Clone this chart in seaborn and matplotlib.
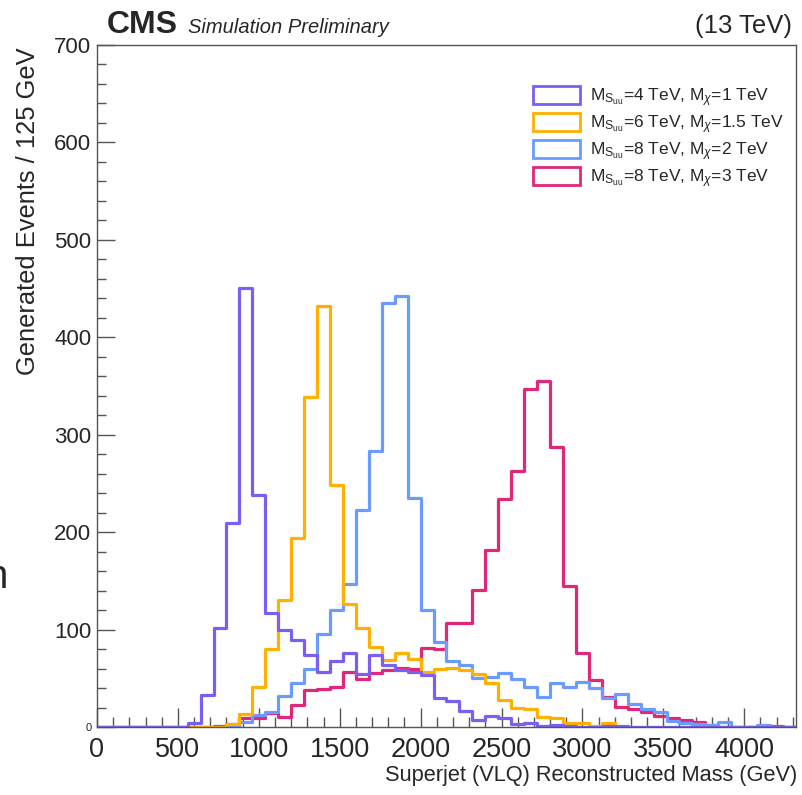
import numpy as np
import pandas as pd
import seaborn as sns
import matplotlib
matplotlib.use("Agg")
import matplotlib.pyplot as plt
from matplotlib.patches import Patch
from matplotlib.ticker import MultipleLocator

# Superjet mass histograms, 80 GeV bins from 0 to 4320 GeV
bin_edges = np.arange(0, 4321, 80)
bin_centers = 0.5 * (bin_edges[:-1] + bin_edges[1:])

# generated events per bin
m4_chi1 = [0, 0, 0, 0, 0, 0, 0, 4, 33, 102, 209, 451, 238, 117, 100, 89, 74, 56,
           68, 76, 54, 74, 64, 58, 56, 53, 30, 27, 16, 7, 11, 9, 3, 4, 1, 2, 1,
           0, 0, 1, 1, 0, 0, 0, 0, 0, 0, 0, 0, 0, 0, 0, 0, 0]
m6_chi15 = [0, 0, 0, 0, 0, 0, 0, 0, 0, 0, 3, 13, 41, 80, 130, 194, 339, 432,
            248, 126, 102, 82, 69, 76, 70, 56, 60, 61, 58, 54, 45, 28, 19, 18,
            10, 9, 4, 4, 1, 4, 0, 0, 0, 0, 0, 0, 0, 0, 0, 0, 0, 0, 0, 0]
m8_chi2 = [0, 0, 0, 0, 0, 0, 0, 0, 0, 0, 0, 5, 12, 15, 32, 45, 60, 95, 120,
           147, 223, 283, 435, 442, 235, 120, 87, 68, 64, 50, 51, 55, 49, 41,
           31, 45, 41, 46, 40, 30, 34, 24, 18, 15, 6, 4, 3, 2, 5, 0, 0, 2, 0, 0]
m8_chi3 = [0, 0, 0, 0, 0, 0, 0, 0, 0, 1, 3, 9, 9, 14, 10, 23, 38, 39, 41, 56,
           49, 55, 58, 61, 60, 81, 80, 107, 107, 141, 182, 234, 263, 347, 355,
           287, 145, 76, 48, 31, 21, 18, 15, 11, 9, 7, 5, 2, 0, 0, 0, 0, 1, 0]

labels = [r"$\mathrm{M}_{\mathrm{S}_{\mathrm{uu}}}$=4 TeV, $\mathrm{M}_{\chi}$=1 TeV",
          r"$\mathrm{M}_{\mathrm{S}_{\mathrm{uu}}}$=6 TeV, $\mathrm{M}_{\chi}$=1.5 TeV",
          r"$\mathrm{M}_{\mathrm{S}_{\mathrm{uu}}}$=8 TeV, $\mathrm{M}_{\chi}$=2 TeV",
          r"$\mathrm{M}_{\mathrm{S}_{\mathrm{uu}}}$=8 TeV, $\mathrm{M}_{\chi}$=3 TeV"]
colors = ["#7B5EF2", "#FFB000", "#6A9BFF", "#E0287A"]
series = [m4_chi1, m6_chi15, m8_chi2, m8_chi3]

sns.set_style("ticks")
plt.rcParams["font.family"] = ["Liberation Sans", "DejaVu Sans"]
plt.rcParams["mathtext.fontset"] = "custom"
plt.rcParams["mathtext.rm"] = "Liberation Sans"
plt.rcParams["mathtext.it"] = "Liberation Sans:italic"
plt.rcParams["mathtext.bf"] = "Liberation Sans:bold"

fig = plt.figure(figsize=(8.02, 7.95), dpi=100)
ax = fig.add_axes([97 / 802, 1 - 727 / 795, 699 / 802, 682 / 795])

# draw last series first so the 4 TeV curve ends up on top, like the original
for vals, col in zip(series[::-1], colors[::-1]):
    hist_df = pd.DataFrame({"mass": bin_centers, "events": np.asarray(vals, dtype=float)})
    sns.histplot(data=hist_df, x="mass", weights="events", bins=list(bin_edges),
                 element="step", fill=False, color=col, linewidth=2.3, ax=ax)

ax.set_xlim(0, 4320)
ax.set_ylim(0, 700)
ax.set_xlabel("")
ax.set_ylabel("")

ax.xaxis.set_major_locator(MultipleLocator(500))
ax.xaxis.set_minor_locator(MultipleLocator(100))
ax.set_yticks(np.arange(0, 701, 100))
ax.yaxis.set_minor_locator(MultipleLocator(20))
ax.tick_params(axis="x", which="major", direction="in", length=14, width=1,
               color="#555555", labelsize=19.5, pad=7)
ax.tick_params(axis="x", which="minor", direction="in", length=7, width=1, color="#555555")
ax.tick_params(axis="y", which="major", direction="in", length=13, width=1,
               color="#555555", labelsize=16, pad=4)
ax.tick_params(axis="y", which="minor", direction="in", length=6.5, width=1, color="#555555")
ax.get_yticklabels()[0].set_fontsize(8)
for sp in ax.spines.values():
    sp.set_color("#555555")
    sp.set_linewidth(1)

handles = [Patch(facecolor="white", edgecolor=c, linewidth=2) for c in colors]
ax.legend(handles, labels, loc="upper left", bbox_to_anchor=(0.624, 0.94),
          frameon=False, fontsize=12.5, handlelength=2.7, handleheight=1.2,
          handletextpad=0.55, labelspacing=0.26, borderpad=0, borderaxespad=0)

fig.text(107 / 802, 1 - 33 / 795, "CMS", fontsize=23, fontweight="bold", va="baseline")
fig.text(188 / 802, 1 - 33 / 795, "Simulation Preliminary", fontsize=14.5,
         style="italic", va="baseline")
fig.text(792 / 802, 1 - 33 / 795, "(13 TeV)", fontsize=18.5, ha="right", va="baseline")
fig.text(28 / 802, 1 - 47 / 795, "Generated Events / 125 GeV", fontsize=18.4,
         rotation=90, ha="center", va="top")
fig.text(797 / 802, 1 - 776 / 795, "Superjet (VLQ) Reconstructed Mass (GeV)",
         fontsize=15.7, ha="right", va="center")
fig.text(8 / 802, 1 - 588 / 795, "n", fontsize=29, ha="right", va="baseline")

fig.savefig("out.png", dpi=100)
